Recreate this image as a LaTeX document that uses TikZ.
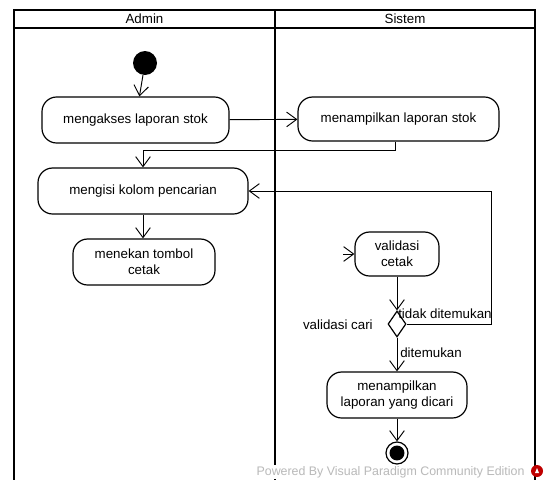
\documentclass[tikz,border=0pt]{standalone}
\usepackage{fontspec}
\setmainfont{Liberation Sans}
\usetikzlibrary{arrows.meta,shapes.geometric}
\begin{document}
\begin{tikzpicture}[x=0.75pt,y=-0.75pt,
  txt/.style={font=\fontsize{10}{12}\selectfont},
  act/.style={txt, draw, line width=0.9pt, rounded corners=11pt, align=center, inner sep=0pt},
  flow/.style={draw, line width=0.7pt, -{Straight Barb[length=7.5pt,width=11pt,line width=0.7pt]}},
  lbl/.style={txt, inner sep=0pt},
  lane/.style={line width=1.5pt}]
\useasboundingbox (0,0) rectangle (546,479);
\fill[white] (0,0) rectangle (546,479);
% swimlanes
\draw[lane] (14,10) rectangle (535,482);
\draw[line width=1.2pt] (14,28) -- (535,28);
\draw[lane] (275,10) -- (275,482);
\node[lbl] (hA) at (144.5,19) {Admin};
\node[lbl] (hS) at (405,19) {Sistem};
% nodes
\node[circle, fill=black, minimum size=18pt, inner sep=0pt] (start) at (145,63) {};
\node[act, minimum width=140.25pt, minimum height=34.5pt] (A1) at (135.5,120) {mengakses laporan stok};
\node[act, minimum width=150.75pt, minimum height=33pt] (S1) at (398.5,119) {menampilkan laporan stok};
\node[act, minimum width=157.5pt, minimum height=34.5pt] (A2) at (143,191) {mengisi kolom pencarian};
\node[act, minimum width=106.5pt, minimum height=34.5pt] (A3) at (144,262) {menekan tombol\\cetak};
\node[act, minimum width=63pt, minimum height=33pt] (S2) at (397,254) {validasi\\cetak};
\node[diamond, draw, line width=0.9pt, minimum width=13.5pt, minimum height=19.5pt, inner sep=0pt] (D) at (397,324) {};
\node[act, minimum width=105pt, minimum height=34.5pt] (S3) at (397,395) {menampilkan\\laporan yang dicari};
\node[circle, draw, line width=0.9pt, fill=white, minimum size=16.5pt, inner sep=0pt] (end) at (397,453) {};
\fill (end.center) circle (5.6pt);
% labels
\node[lbl, anchor=east] (lD) at (373,325) {validasi cari};
\node[lbl, anchor=west] (lT) at (398,314) {tidak ditemukan};
\node[lbl, anchor=west] (lF) at (400,353) {ditemukan};
% connectors
\coordinate (s2in) at (343,254);
\draw[flow] (start) -- (A1);
\draw[flow] (A1) -- (S1);
\draw[flow] ([xshift=-2.6pt]S1.south) -- ++(0,9) -| (A2.north);
\draw[flow] (A2.south) -- (A2.south |- A3.north);
\draw[flow] (s2in) -- (S2.west);
\draw[flow] (S2.south) -- (D.north);
\draw[flow] (D.east) -- (491,324) |- (A2.east);
\draw[flow] (D.south) -- (S3.north);
\draw[flow] (S3.south) -- (end.north);
% watermark
\node[font=\fontsize{9.3}{11}\selectfont, text=gray!55, anchor=west, fill=white, inner sep=1pt] (wm) at (255,472) {Powered By\ Visual Paradigm Community Edition};
\fill[red!75!black] (537,471) circle (4.5pt);
\fill[white] (535,473) -- (539,473) -- (537,468) -- cycle;
\end{tikzpicture}
\end{document}
